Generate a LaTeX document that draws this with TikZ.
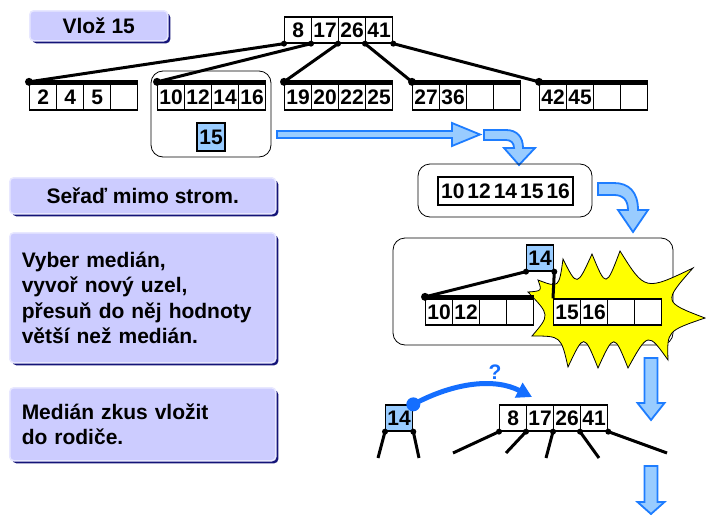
\documentclass[tikz,border=0pt]{standalone}
\usepackage{fontspec}
\setmainfont{Liberation Sans}
\usetikzlibrary{arrows.meta,positioning,shadows}
\definecolor{bxlav}{RGB}{204,204,255}
\definecolor{bxnavy}{RGB}{20,20,120}
\definecolor{keyblue}{RGB}{153,204,255}
\definecolor{arblue}{RGB}{30,125,255}
\definecolor{crvblue}{RGB}{20,110,255}
\definecolor{boomyel}{RGB}{255,255,0}
% block arrow pointing down: x, top, head base, tip
\newcommand{\blockdown}[4]{%
  \draw[blockarrow] (#1-6.5,#2) -- (#1+6.5,#2) -- (#1+6.5,#3) -- (#1+13.5,#3)
    -- (#1,#4) -- (#1-13.5,#3) -- (#1-6.5,#3) -- cycle;}

\begin{document}
\begin{tikzpicture}[
    x=1pt, y=-1pt,
    font=\fontsize{21}{25.5}\selectfont\bfseries,
    note/.style={fill=bxlav,draw=white!55!bxlav,line width=1.5pt,rounded corners=4pt,inner sep=0pt,anchor=north west,
      drop shadow={shadow xshift=2.5pt,shadow yshift=-2.5pt,fill=bxnavy,opacity=1}},
    cell/.style={draw,fill=white,line width=1.3pt,minimum width=27pt,minimum height=26pt,inner sep=0pt,anchor=west},
    keyb/.style={cell,fill=keyblue},
    grp/.style={draw,rounded corners=12pt,line width=0.8pt},
    edge/.style={line width=3pt},
    bar/.style={line width=4pt},
    blockarrow/.style={fill=keyblue,draw=arblue,line width=1.8pt,line join=miter},
    boom/.style={fill=boomyel,draw=black,line width=0.8pt},
    hop/.style={draw=crvblue,line width=5pt,-{Triangle[length=15pt,width=16pt]}}
  ]
    \useasboundingbox (0,0) rectangle (706,522);

    % instruction boxes
    \node[note,minimum width=138pt,minimum height=30pt] (title) at (29,10) {Vlož 15};
    \node[note,minimum width=266pt,minimum height=36pt] (sort) at (9,177) {Seřaď mimo strom.};
    \node[note,minimum width=266pt,minimum height=130pt,text width=242pt,align=left] (split) at (9,232)
      {Vyber medián,\\vyvoř nový uzel,\\přesuň do něj hodnoty\\větší než medián.};
    \node[note,minimum width=266pt,minimum height=73pt,text width=242pt,align=left] (push) at (9,387)
      {Medián zkus vložit\\do rodiče.};

    % tree before insertion
    \draw[grp] (151,71) rectangle (271,157);
    \foreach \k [count=\i] in {8,17,26,41}
      \node[cell] (r\i) at ({284+27*(\i-1)},30) {\k};
    \foreach \k [count=\i] in {2,4,5,{}}
      \node[cell] (a\i) at ({29+27*(\i-1)},97) {\k};
    \foreach \k [count=\i] in {10,12,14,16}
      \node[cell] (b\i) at ({157+27*(\i-1)},97) {\k};
    \foreach \k [count=\i] in {19,20,22,25}
      \node[cell] (c\i) at ({284+27*(\i-1)},97) {\k};
    \foreach \k [count=\i] in {27,36,{},{}}
      \node[cell] (d\i) at ({412+27*(\i-1)},97) {\k};
    \foreach \k [count=\i] in {42,45,{},{}}
      \node[cell] (e\i) at ({539+27*(\i-1)},97) {\k};
    \node[keyb,minimum width=28pt,minimum height=28pt,anchor=center] (k15) at (211,137) {15};
    \foreach \n in {a,b,c,d,e} {
      \draw[bar] ([yshift=1.5pt]\n1.north west) -- ([yshift=1.5pt]\n4.north east);
      \fill ([yshift=1.5pt]\n1.north west) circle (4pt);
    }
    \draw[edge] (r1.south west) -- ([yshift=1.5pt]a1.north west);
    \draw[edge] (r2.south west) -- ([yshift=1.5pt]b1.north west);
    \draw[edge] (r3.south west) -- ([yshift=1.5pt]c1.north west);
    \draw[edge] (r4.south west) -- ([yshift=1.5pt]d1.north west);
    \draw[edge] (r4.south east) -- ([yshift=1.5pt]e1.north west);
    \foreach \i in {1,...,4}
      \fill (r\i.south west) circle (3pt);
    \fill (r4.south east) circle (3pt);

    % arrows to the sorted node
    \draw[blockarrow] (277,131) -- (452,131) -- (452,123) -- (480,134.5) -- (452,146) -- (452,138) -- (277,138) -- cycle;
    \draw[blockarrow] (484,130) -- (506,130) .. controls (517,130) and (523,137) .. (523,148) -- (535,148)
      -- (519,165) -- (504,148) -- (514,148) .. controls (514,143) and (511,140) .. (506,140) -- (484,140) -- cycle;

    % sorted outside the tree
    \draw[grp] (418,164) rectangle (592,217);
    \node[cell,anchor=center,minimum width=135pt,minimum height=28pt] (sorted) at (505.5,191)
      {\spaceskip=3pt 10 12 14 15 16};
    \draw[blockarrow] (598,183) -- (614,183) .. controls (629,183) and (638,192) .. (638,210) -- (648,210)
      -- (633,232) -- (618,210) -- (628,210) .. controls (628,200) and (623,195) .. (614,195) -- (598,195) -- cycle;

    % split node
    \draw[grp] (393,238) rectangle (673,345);
    \draw[boom] (528,292) .. controls (542,291) .. (538,280) .. controls (559,288) .. (563,259)
      .. controls (577,287) .. (592,254) .. controls (606,288) .. (620,251) .. controls (645,291) .. (693,268)
      .. controls (663,302) .. (705,318) .. controls (667,331) .. (668,360) .. controls (648,332) .. (628,368)
      .. controls (614,333) .. (598,368) .. controls (584,333) .. (568,367) .. controls (561,336) .. (532,336)
      .. controls (550,315) .. (528,292) -- cycle;
    \node[keyb] (m14) at (526,258) {14};
    \foreach \k [count=\i] in {10,12,{},{}}
      \node[cell] (sl\i) at ({425+27*(\i-1)},312) {\k};
    \foreach \k [count=\i] in {15,16,{},{}}
      \node[cell] (sr\i) at ({553+27*(\i-1)},312) {\k};
    \draw[bar] ([yshift=1.5pt]sl1.north west) -- ([yshift=1.5pt]sl4.north east);
    \draw[edge] (m14.south west) -- ([yshift=1.5pt]sl1.north west);
    \draw[edge] (m14.south east) -- (sr1.north west);
    \fill ([yshift=1.5pt]sl1.north west) circle (4pt);
    \fill (m14.south west) circle (3pt);
    \fill (m14.south east) circle (3pt);

    \blockdown{651}{358}{403}{420}

    % median goes up to the parent
    \node[keyb] (q14) at (385,418) {14};
    \coordinate (ql) at (378,458);
    \coordinate (qr) at (419,458);
    \draw[edge] (q14.south west) -- (ql);
    \draw[edge] (q14.south east) -- (qr);
    \fill (q14.south west) circle (3pt);
    \fill (q14.south east) circle (3pt);
    \foreach \k [count=\i] in {8,17,26,41}
      \node[cell] (p\i) at ({499+27*(\i-1)},418) {\k};
    \coordinate (pc1) at (453,453);
    \coordinate (pc2) at (506,453);
    \coordinate (pc3) at (546,458);
    \coordinate (pc4) at (599,458);
    \coordinate (pc5) at (667,453);
    \foreach \i in {1,...,4} {
      \draw[edge] (p\i.south west) -- (pc\i);
      \fill (p\i.south west) circle (3pt);
    }
    \draw[edge] (p4.south east) -- (pc5);
    \fill (p4.south east) circle (3pt);
    \coordinate (tipq) at (532,397);
    \draw[hop] (q14.north east) .. controls (455,382) and (495,378) .. (tipq);
    \fill[crvblue] (q14.north east) circle (7pt);
    \node[text=crvblue] (qmark) at (495,372) {?};

    \blockdown{651}{466}{502}{514}
  \end{tikzpicture}
\end{document}
